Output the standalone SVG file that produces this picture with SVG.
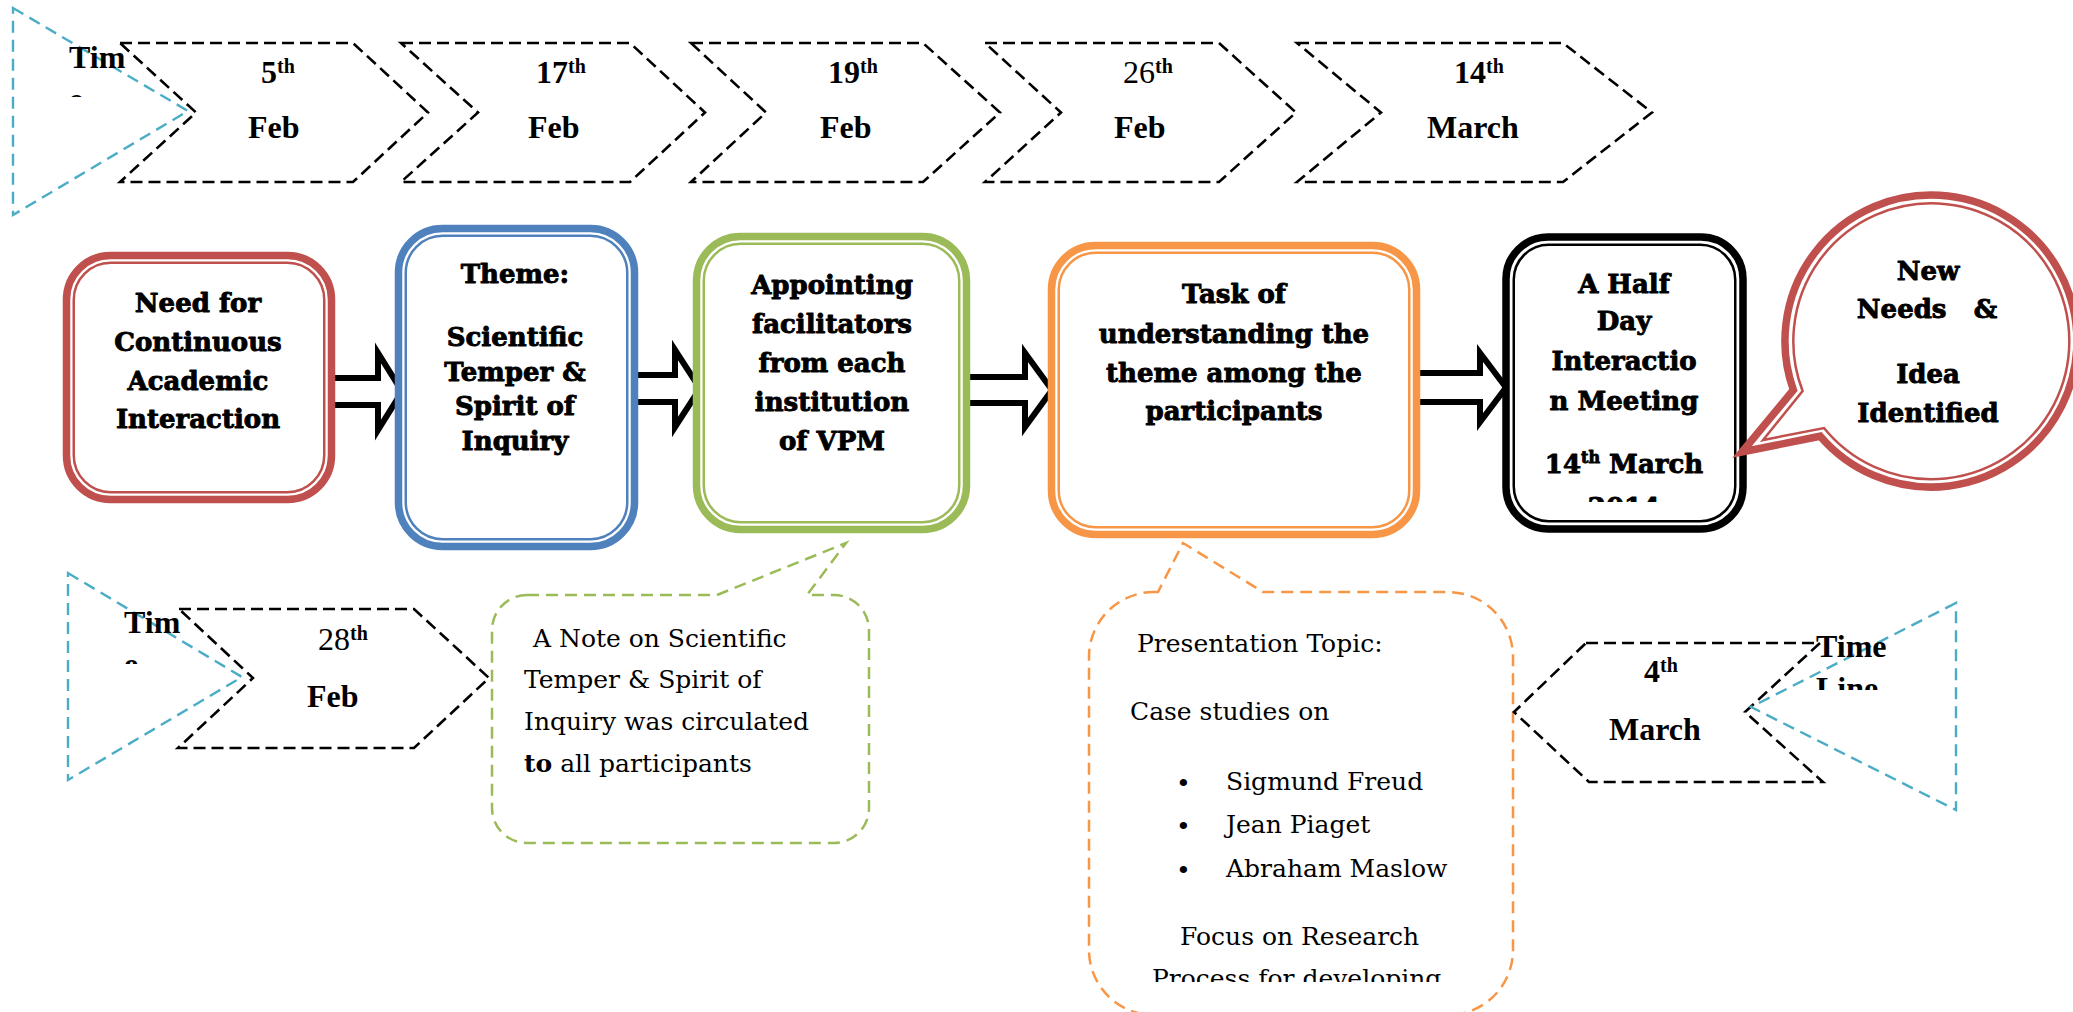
<svg xmlns="http://www.w3.org/2000/svg" width="2073" height="1012" viewBox="0 0 2073 1012">
  <style>
    .bg { fill: #ffffff; }
    .chev { fill: none; stroke: #000; stroke-width: 2.6; stroke-dasharray: 12 6; stroke-linejoin: miter; }
    .tri { fill: none; stroke: #4BACC6; stroke-width: 2.4; stroke-dasharray: 12 7; }
    .date { font-family: "Liberation Serif", serif; font-weight: bold; font-size: 32px; fill: #000; }
    .sup { font-size: 20px; }
    .heavy { font-family: "DejaVu Serif", serif; font-weight: bold; font-size: 26px; fill: #000; text-anchor: middle; stroke: #000; stroke-width: 0.9px; stroke-linejoin: round; }
    .body { font-family: "DejaVu Serif", serif; font-size: 25px; fill: #000; }
    .outer { fill: #fff; stroke-width: 7.5; }
    .inner { fill: none; stroke-width: 2.5; }
    .red { stroke: #C0504D; }
    .blue { stroke: #4F81BD; }
    .green { stroke: #9BBB59; }
    .orange { stroke: #F79646; }
    .black { stroke: #000; }
    .arrow { fill: #fff; stroke: #000; stroke-width: 6; stroke-linejoin: miter; }
    .note { fill: #fff; stroke-width: 2.5; stroke-dasharray: 12 7; }
  </style>
  <defs>
    <clipPath id="clipTL"><rect x="0" y="0" width="260" height="97"/></clipPath>
    <clipPath id="clipBL"><rect x="0" y="560" width="300" height="104"/></clipPath>
    <clipPath id="clipBR"><rect x="1780" y="600" width="200" height="90"/></clipPath>
    <clipPath id="clipMeet"><rect x="1510" y="240" width="230" height="262"/></clipPath>
    <clipPath id="clipTopic"><rect x="1095" y="600" width="415" height="382"/></clipPath>
  </defs>

  <rect class="bg" x="0" y="0" width="2073" height="1012"/>

  <!-- connectors: hollow block arrows between the steps -->
  <g id="connectors">
    <path class="arrow" d="M320,378 L378,378 L378,353 L402,391.5 L378,430 L378,405 L320,405 Z"/>
    <path class="arrow" d="M630,375 L675,375 L675,350 L700,388.5 L675,427 L675,402 L630,402 Z"/>
    <path class="arrow" d="M965,377 L1025,377 L1025,353 L1052,390 L1025,427 L1025,403 L965,403 Z"/>
    <path class="arrow" d="M1414,373 L1480,373 L1480,353 L1506,387.5 L1480,422 L1480,402 L1414,402 Z"/>
  </g>

  <!-- upper time line -->
  <g id="timeline-top">
    <path class="tri" d="M13,8 L188,111 L13,215 Z"/>
    <g clip-path="url(#clipTL)">
      <text class="date" x="69" y="68">Tim</text>
      <text class="date" x="69" y="110">e</text>
    </g>
  </g>
  <g id="date-feb5">
    <path class="chev" d="M120,43 L353,43 L428,112.5 L353,182 L120,182 L196,112.5 Z"/>
    <text class="date" x="261" y="83">5<tspan class="sup" dy="-10">th</tspan></text>
    <text class="date" x="248" y="138">Feb</text>
  </g>
  <g id="date-feb17">
    <path class="chev" d="M401,43 L630,43 L705,112.5 L630,182 L401,182 L478,112.5 Z"/>
    <text class="date" x="536" y="83">17<tspan class="sup" dy="-10">th</tspan></text>
    <text class="date" x="528" y="138">Feb</text>
  </g>
  <g id="date-feb19">
    <path class="chev" d="M691,43 L923,43 L1000,112.5 L923,182 L691,182 L766,112.5 Z"/>
    <text class="date" x="828" y="83">19<tspan class="sup" dy="-10">th</tspan></text>
    <text class="date" x="820" y="138">Feb</text>
  </g>
  <g id="date-feb26">
    <path class="chev" d="M985,43 L1219,43 L1296,112.5 L1219,182 L985,182 L1061,112.5 Z"/>
    <text class="date" x="1123" y="83"><tspan font-weight="normal">26</tspan><tspan class="sup" dy="-10">th</tspan></text>
    <text class="date" x="1114" y="138">Feb</text>
  </g>
  <g id="date-mar14">
    <path class="chev" d="M1297,43 L1563,43 L1652,112.5 L1563,182 L1297,182 L1381,112.5 Z"/>
    <text class="date" x="1454" y="83">14<tspan class="sup" dy="-10">th</tspan></text>
    <text class="date" x="1427" y="138">March</text>
  </g>

  <!-- main process steps -->
  <g id="step-need">
    <rect class="outer red" x="66.5" y="255.5" width="265" height="244" rx="44"/>
    <rect class="inner red" x="73.75" y="262.75" width="250.5" height="229.5" rx="37"/>
    <text class="heavy" x="198" y="312">Need for</text>
    <text class="heavy" x="198" y="351">Continuous</text>
    <text class="heavy" x="198" y="390">Academic</text>
    <text class="heavy" x="198" y="428">Interaction</text>
  </g>
  <g id="step-theme">
    <rect class="outer blue" x="398.5" y="228.5" width="236" height="318" rx="44"/>
    <rect class="inner blue" x="405.75" y="235.75" width="221.5" height="303.5" rx="37"/>
    <text class="heavy" x="515" y="283" font-size="23">Theme:</text>
    <text class="heavy" x="515" y="346" font-size="24">Scientific</text>
    <text class="heavy" x="515" y="381" font-size="24">Temper &amp;</text>
    <text class="heavy" x="515" y="415" font-size="24">Spirit of</text>
    <text class="heavy" x="515" y="450" font-size="24">Inquiry</text>
  </g>
  <g id="step-facilitators">
    <rect class="outer green" x="696.5" y="236.5" width="270" height="293" rx="44"/>
    <rect class="inner green" x="703.75" y="243.75" width="255.5" height="278.5" rx="37"/>
    <text class="heavy" x="832" y="294" font-size="27">Appointing</text>
    <text class="heavy" x="832" y="333" font-size="27">facilitators</text>
    <text class="heavy" x="832" y="372" font-size="27">from each</text>
    <text class="heavy" x="832" y="411" font-size="27">institution</text>
    <text class="heavy" x="832" y="450" font-size="27">of VPM</text>
  </g>
  <g id="step-task">
    <rect class="outer orange" x="1051.5" y="245.5" width="365" height="289" rx="44"/>
    <rect class="inner orange" x="1058.75" y="252.75" width="350.5" height="274.5" rx="37"/>
    <text class="heavy" x="1234" y="303">Task of</text>
    <text class="heavy" x="1234" y="343">understanding the</text>
    <text class="heavy" x="1234" y="382">theme among the</text>
    <text class="heavy" x="1234" y="420">participants</text>
  </g>
  <g id="step-meeting">
    <rect class="outer black" x="1506" y="237" width="237" height="292" rx="42" stroke-width="8"/>
    <rect class="inner black" x="1513.75" y="244.75" width="221.5" height="276.5" rx="35"/>
    <g clip-path="url(#clipMeet)">
      <text class="heavy" x="1624" y="293">A Half</text>
      <text class="heavy" x="1624" y="330">Day</text>
      <text class="heavy" x="1624" y="370">Interactio</text>
      <text class="heavy" x="1624" y="410">n Meeting</text>
      <text class="heavy" x="1624" y="473">14<tspan font-size="16" dy="-10">th</tspan><tspan dy="10"> March</tspan></text>
      <text class="heavy" x="1624" y="516">2014</text>
    </g>
  </g>
  <g id="bubble-new-needs">
    <path class="outer red" d="M1793.4,390 A146,146 0 1 1 1820.2,436.2 L1742,452 Z" stroke-miterlimit="6"/>
    <path class="inner red" d="M1802.6,391 A138,138 0 1 1 1824,428 L1763,440 Z"/>
    <text class="heavy" x="1928" y="280">New</text>
    <text class="heavy" x="1927" y="318" style="white-space:pre">Needs   &amp;</text>
    <text class="heavy" x="1928" y="383">Idea</text>
    <text class="heavy" x="1928" y="422">Identified</text>
  </g>

  <!-- lower time line, left -->
  <g id="timeline-bottom-left">
    <path class="tri" d="M68,573 L242,677 L68,780 Z"/>
    <g clip-path="url(#clipBL)">
      <text class="date" x="124" y="633">Tim</text>
      <text class="date" x="124" y="675">e</text>
    </g>
  </g>
  <g id="date-feb28">
    <path class="chev" d="M179,609 L414,609 L489,678 L414,748 L178,748 L253,678 Z"/>
    <text class="date" x="318" y="650"><tspan font-weight="normal">28</tspan><tspan class="sup" dy="-10">th</tspan></text>
    <text class="date" x="307" y="707">Feb</text>
  </g>

  <!-- note attached to the facilitators step -->
  <g id="note-circulated">
    <path class="note green" d="M527,595 L717,595 L846,543 L807,595 L834,595 A35,35 0 0 1 869,630 L869,808 A35,35 0 0 1 834,843 L527,843 A35,35 0 0 1 492,808 L492,630 A35,35 0 0 1 527,595 Z"/>
    <text class="body" x="533" y="647">A Note on Scientific</text>
    <text class="body" x="524" y="688">Temper &amp; Spirit of</text>
    <text class="body" x="524" y="730">Inquiry was circulated</text>
    <text class="body" x="524" y="772"><tspan font-weight="bold">to</tspan> all participants</text>
  </g>

  <!-- note attached to the task step -->
  <g id="note-presentation">
    <path class="note orange" d="M1154,592 L1158,592 L1183,543 L1263,592 L1448,592 A65,65 0 0 1 1513,657 L1513,950 A65,65 0 0 1 1448,1015 L1154,1015 A65,65 0 0 1 1089,950 L1089,657 A65,65 0 0 1 1154,592 Z"/>
    <g clip-path="url(#clipTopic)">
      <text class="body" x="1137" y="652">Presentation Topic:</text>
      <text class="body" x="1130" y="720">Case studies on</text>
      <text class="body" x="1176" y="792" font-size="30">•</text>
      <text class="body" x="1226" y="790">Sigmund Freud</text>
      <text class="body" x="1176" y="835" font-size="30">•</text>
      <text class="body" x="1226" y="833">Jean Piaget</text>
      <text class="body" x="1176" y="879" font-size="30">•</text>
      <text class="body" x="1226" y="877">Abraham Maslow</text>
      <text class="body" x="1180" y="945">Focus on Research</text>
      <text class="body" x="1152" y="987">Process for developing</text>
    </g>
  </g>

  <!-- lower time line, right -->
  <g id="date-mar4">
    <path class="chev" d="M1586,643 L1820,643 L1745,712 L1823,782 L1589,782 L1514,712 Z"/>
    <text class="date" x="1644" y="682">4<tspan class="sup" dy="-10">th</tspan></text>
    <text class="date" x="1609" y="740">March</text>
  </g>
  <g id="timeline-bottom-right">
    <path class="tri" d="M1956,603 L1751,707 L1956,810 Z"/>
    <g clip-path="url(#clipBR)">
      <text class="date" x="1816" y="657">Time</text>
      <text class="date" x="1816" y="699">Line</text>
    </g>
  </g>
</svg>
